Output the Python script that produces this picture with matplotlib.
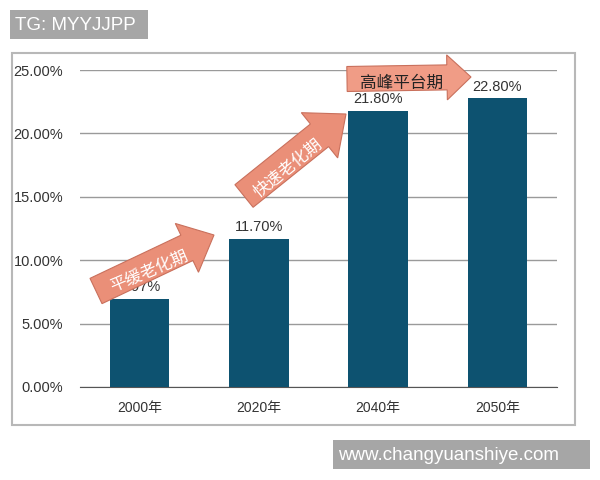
import matplotlib
matplotlib.use("Agg")
import matplotlib.pyplot as plt
from matplotlib.patches import FancyArrow, Rectangle
from matplotlib.ticker import FuncFormatter

plt.rcParams['font.family'] = ['Liberation Sans', 'Noto Sans CJK SC', 'DejaVu Sans']

# data
years = ['2000年', '2020年', '2040年', '2050年']
ratio = [0.0697, 0.117, 0.218, 0.228]
value_labels = ['6.97%', '11.70%', '21.80%', '22.80%']
yticks = [0.0, 0.05, 0.10, 0.15, 0.20, 0.25]

bar_color = '#0d5270'
arrow_face = '#ea8f78'
arrow_edge = '#c9705c'

fig = plt.figure(figsize=(6, 4.8), dpi=100)
fig.patch.set_facecolor('white')

# outer frame of the chart
fig.patches.append(Rectangle((12 / 600, 1 - 425 / 480), 563 / 600, 372 / 480,
                             transform=fig.transFigure, fill=False,
                             edgecolor='#b8b8b8', lw=1.5))

ax = fig.add_axes([80 / 600, 1 - 387 / 480, 477 / 600, 317 / 480])
x = range(len(years))
ax.bar(x, ratio, width=0.5, color=bar_color, zorder=3)
for i, (v, lab) in enumerate(zip(ratio, value_labels)):
    ax.annotate(lab, (i, v), xytext=(0, 3), textcoords='offset points',
                ha='center', va='bottom', fontsize=10.5, color='#333333', zorder=4)

ax.set_xlim(-0.5, len(years) - 0.5)
ax.set_ylim(0, 0.25)
ax.set_yticks(yticks)
ax.yaxis.set_major_formatter(FuncFormatter(lambda v, p: f'{v * 100:.2f}%'))
ax.set_xticks(list(x))
ax.set_xticklabels(years)
ax.yaxis.grid(True, color='#9a9a9a', lw=1)
ax.set_axisbelow(True)
for s in ['left', 'right', 'top']:
    ax.spines[s].set_visible(False)
ax.spines['bottom'].set_color('#555555')
ax.tick_params(axis='y', length=0, pad=12, labelsize=10.5, labelcolor='#333333')
ax.tick_params(axis='x', length=0, pad=10, labelsize=10, labelcolor='#333333')

# overlay in pixel coordinates for the stage arrows and tags
ov = fig.add_axes([0, 0, 1, 1], facecolor='none')
ov.set_xlim(0, 600)
ov.set_ylim(480, 0)
ov.axis('off')

def stage_arrow(x0, y0, x1, y1, w, hw, hl, face):
    ov.add_patch(FancyArrow(x0, y0, x1 - x0, y1 - y0, width=w, head_width=hw,
                            head_length=hl, length_includes_head=True,
                            facecolor=face, edgecolor=arrow_edge, lw=0.8, zorder=5))

def stage_text(tx, ty, text, tcolor, rot):
    ov.text(tx, ty, text, rotation=rot, rotation_mode='anchor', ha='center',
            va='center', fontsize=12, color=tcolor, zorder=6,
            family=['Noto Sans CJK SC'])

stage_arrow(96, 291, 214, 235, 28, 54, 30, arrow_face)
stage_text(149, 271, '平缓老化期', 'white', 23)
stage_arrow(244, 196, 346, 114, 29, 58, 34, arrow_face)
stage_text(288, 168, '快速老化期', 'white', 39)
stage_arrow(347, 79, 471, 77, 25, 45, 24, '#f09c86')
stage_text(402, 83, '高峰平台期', '#222222', 0)

# tags
ov.add_patch(Rectangle((10, 10), 138, 29, facecolor='#a6a6a6', edgecolor='none'))
ov.text(15, 25, 'TG: MYYJJPP', color='white', fontsize=13.5, va='center', ha='left')
ov.add_patch(Rectangle((333, 440), 257, 29, facecolor='#a6a6a6', edgecolor='none'))
ov.text(338, 455, 'www.changyuanshiye.com', color='white', fontsize=13.5,
        va='center', ha='left')

fig.savefig('out.png', dpi=100)
